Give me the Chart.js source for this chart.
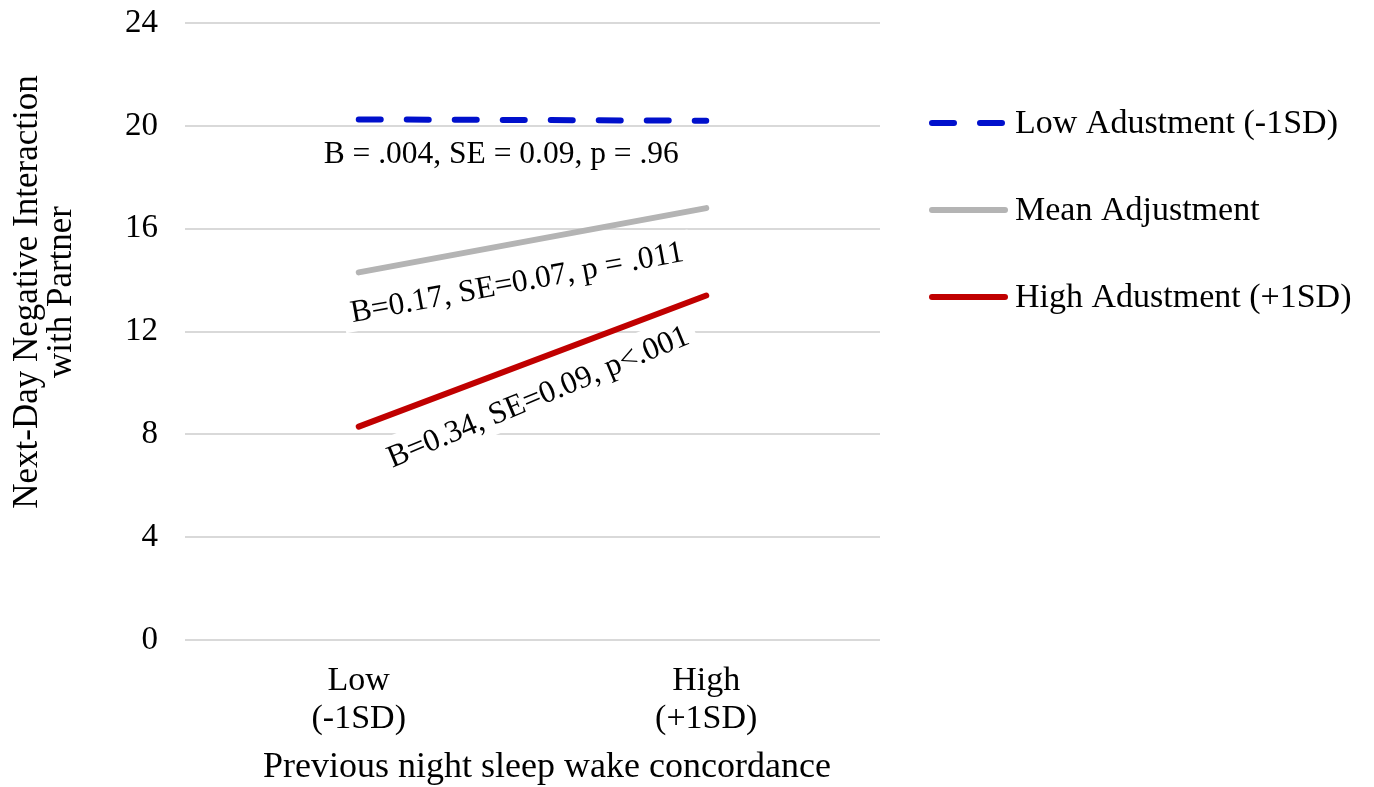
<!DOCTYPE html>
<html>
<head>
<meta charset="utf-8">
<script src="https://cdn.jsdelivr.net/npm/chart.js@4.4.0/dist/chart.umd.min.js"></script>
<style>
  html, body { margin: 0; padding: 0; background: #fff; }
  #wrap { width: 1374px; height: 787px; }
</style>
</head>
<body>
<div id="wrap"><canvas id="sleep_chart" width="1374" height="787"></canvas></div>
<script>
// values
const categories = [["Low", "(-1SD)"], ["High", "(+1SD)"]];
const series_names = ["Low Adustment (-1SD)", "Mean Adjustment", "High Adustment (+1SD)"];
const low_adj = [20.25, 20.2];
const mean_adj = [14.3, 16.8];
const high_adj = [8.3, 13.4];
const y_ticks = [0, 4, 8, 12, 16, 20, 24];

const y_title = ["Next-Day Negative Interaction", "with Partner"];
const x_title = "Previous night sleep wake concordance";

const stat_labels = [
    "B = .004, SE = 0.09, p = .96",
    "B=0.17, SE=0.07, p = .011",
    "B=0.34, SE=0.09, p<.001"
];

const serif = "'Liberation Serif', 'Times New Roman', serif";
const line_colors = ['#0010cc', '#b4b4b4', '#c00000'];

// where the stat labels sit (category index, y value) and how they tilt
const label_spots = [
    { x: 0.41, y: 18.95, tilt: null },
    { x: 0.455, y: 13.95, tilt: 1 },
    { x: 0.515, y: 9.5, tilt: 2, angle_adj: -0.035 }
];

// stat text with white boxes behind, rotated along the lines
const statPlugin = {
    id: 'statLabels',
    afterDatasetsDraw(chart) {
        const ctx = chart.ctx;
        const xs = chart.scales.x, ys = chart.scales.y;
        ctx.save();
        ctx.font = "31.5px " + serif;
        ctx.textAlign = 'center';
        ctx.textBaseline = 'middle';
        label_spots.forEach((s, i) => {
            let ang = 0;
            if (s.tilt !== null) {
                const d = chart.data.datasets[s.tilt].data;
                const x0 = xs.getPixelForValue(0), x1 = xs.getPixelForValue(1);
                const y0 = ys.getPixelForValue(d[0]), y1 = ys.getPixelForValue(d[1]);
                ang = Math.atan2(y1 - y0, x1 - x0) + (s.angle_adj || 0);
            }
            const px = xs.getPixelForValue(s.x);
            const py = ys.getPixelForValue(s.y);
            const w = ctx.measureText(stat_labels[i]).width;
            ctx.save();
            ctx.translate(px, py);
            ctx.rotate(ang);
            if (s.tilt !== null) {
                ctx.fillStyle = '#fff';
                ctx.fillRect(-w / 2 - 8, -20, w + 16, 40);
            }
            ctx.fillStyle = '#000';
            ctx.fillText(stat_labels[i], 0, 2);
            ctx.restore();
        });
        ctx.restore();
    }
};

// axis titles, placed by hand (the original sits off-centre)
const titlePlugin = {
    id: 'axisTitles',
    afterDraw(chart) {
        const ctx = chart.ctx;
        ctx.save();
        ctx.fillStyle = '#000';
        ctx.textAlign = 'center';
        ctx.textBaseline = 'middle';
        ctx.font = "35px " + serif;
        ctx.save();
        ctx.translate(28, 292);
        ctx.rotate(-Math.PI / 2);
        ctx.fillText(y_title[0], 0, 0);
        ctx.fillText(y_title[1], 0, 34);
        ctx.restore();
        ctx.font = "36px " + serif;
        ctx.fillText(x_title, 547, 768);
        ctx.restore();
    }
};

// legend on the right, drawn by hand
const legendPlugin = {
    id: 'sideLegend',
    afterDraw(chart) {
        const ctx = chart.ctx;
        const x0 = 932, x1 = 1005;
        const rows = [123, 210, 297];
        ctx.save();
        ctx.font = "34px " + serif;
        ctx.textBaseline = 'middle';
        ctx.textAlign = 'left';
        chart.data.datasets.forEach((ds, i) => {
            ctx.strokeStyle = ds.borderColor;
            ctx.lineWidth = ds.borderWidth;
            ctx.lineCap = 'round';
            ctx.setLineDash(ds.borderDash || []);
            ctx.beginPath();
            ctx.moveTo(x0, rows[i]);
            ctx.lineTo(x1, rows[i]);
            ctx.stroke();
            ctx.setLineDash([]);
            ctx.fillStyle = '#000';
            ctx.fillText(ds.label, 1015, rows[i] + 1);
        });
        ctx.restore();
    }
};

const el = document.getElementById('sleep_chart').getContext('2d');
const chart = new Chart(el, {
    type: 'line',
    data: {
        labels: categories,
        datasets: [
            { label: series_names[0], data: low_adj, borderColor: line_colors[0], borderWidth: 6, borderDash: [22, 26], borderCapStyle: 'round' },
            { label: series_names[1], data: mean_adj, borderColor: line_colors[1], borderWidth: 6, borderCapStyle: 'round' },
            { label: series_names[2], data: high_adj, borderColor: line_colors[2], borderWidth: 6, borderCapStyle: 'round' }
        ]
    },
    options: {
        responsive: false,
        animation: false,
        devicePixelRatio: 1,
        layout: { padding: { top: 23, right: 494, bottom: 0, left: 0 } },
        elements: { point: { radius: 0 }, line: { tension: 0 } },
        plugins: {
            legend: { display: false },
            tooltip: { enabled: false }
        },
        scales: {
            x: {
                offset: true,
                grid: { display: false, drawTicks: false },
                border: { display: false },
                ticks: { color: '#000', font: { family: serif, size: 34, lineHeight: 1.12 }, padding: 22, maxRotation: 0 },
                afterFit(scale) { scale.height = 147; }
            },
            y: {
                min: 0,
                max: 24,
                afterBuildTicks(scale) { scale.ticks = y_ticks.map(v => ({ value: v })); },
                grid: { color: '#d9d9d9', lineWidth: 2, drawTicks: true, tickLength: 27, tickColor: 'rgba(0,0,0,0)' },
                border: { display: false },
                ticks: { color: '#000', font: { family: serif, size: 33 }, padding: 0 },
                afterFit(scale) { scale.width = 185; }
            }
        }
    },
    plugins: [statPlugin, titlePlugin, legendPlugin]
});
</script>
</body>
</html>
